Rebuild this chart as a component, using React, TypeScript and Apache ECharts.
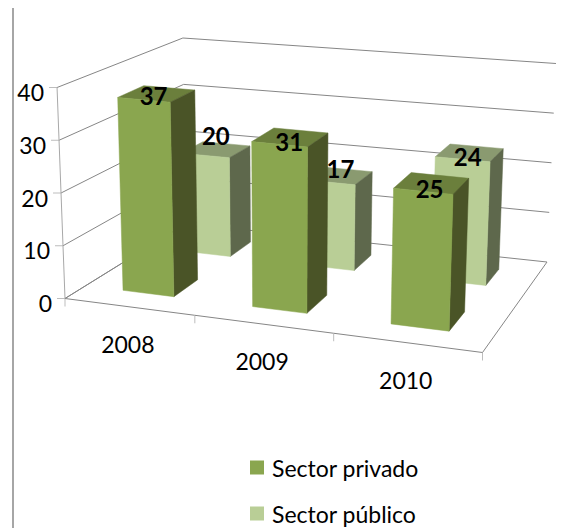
import React, { useEffect, useRef } from "react";
import * as echarts from "echarts";

const categories = ["2008", "2009", "2010"];
const privado = [37, 31, 25];
const publico = [20, 17, 24];
const yTicks = [0, 10, 20, 30, 40];
const FONT = "Lato";
const W = 573;
const H = 528;

// floor corners of the 3-D box: front-left, front-right, back-right, back-left
const floorBox = [[65, 298.5], [482.5, 352.5], [547, 262], [186, 223.5]];
// full-scale pixel height at the same four corners
const boxHeights = [211, 224, 198.5, 185.5];
const VERT_VANISH_X = 284;
const VERT_LEAN = 0.000172;
const labelNudge = { priv: [[-3, 2], [-1, 4], [-2, 5]], pub: [[0, -14], [2, -7], [-2, 4]] };

function homography(p: number[][]) {
  const [[x0, y0], [x1, y1], [x2, y2], [x3, y3]] = p;
  const dx1 = x1 - x2, dx2 = x3 - x2, sx = x0 - x1 + x2 - x3;
  const dy1 = y1 - y2, dy2 = y3 - y2, sy = y0 - y1 + y2 - y3;
  const den = dx1 * dy2 - dx2 * dy1;
  const g = (sx * dy2 - dx2 * sy) / den;
  const h = (dx1 * sy - sx * dy1) / den;
  const a = x1 - x0 + g * x1, b = x3 - x0 + h * x3;
  const d = y1 - y0 + g * y1, e = y3 - y0 + h * y3;
  return (u: number, v: number) => {
    const w = g * u + h * v + 1;
    return [(a * u + b * v + x0) / w, (d * u + e * v + y0) / w];
  };
}
const floorMap = homography(floorBox);
function project(u: number, v: number, t: number) {
  const f = floorMap(u, v);
  const hf = boxHeights[0] + (boxHeights[1] - boxHeights[0]) * u;
  const hb = boxHeights[3] + (boxHeights[2] - boxHeights[3]) * u;
  const full = hf + (hb - hf) * v;
  const up = full * t;
  return [f[0] + (f[0] - VERT_VANISH_X) * VERT_LEAN * up, f[1] - up];
}

const GRID = "#868686";
const TICK = "#bdbdbd";
const line = (a: number[], b: number[], stroke: string) => ({
  type: "line",
  shape: { x1: a[0], y1: a[1], x2: b[0], y2: b[1] },
  style: { stroke, lineWidth: 1 },
  silent: true,
});
const label = (text: string, x: number, y: number, size: number, weight: string, align: string) => ({
  type: "text",
  style: { text, x, y, fill: "#000", fontFamily: FONT, fontSize: size, fontWeight: weight, align, verticalAlign: "middle" },
});

function toUnit(api: any) {
  const p = api.coord([api.value(0), api.value(1)]);
  return { cat: p[0] / W, t: 1 - p[1] / H };
}

function renderValueFrame(_: any, api: any) {
  const { t } = toUnit(api);
  const a = project(0, 0, t), b = project(0, 1, t), c = project(1, 1, t);
  return {
    type: "group",
    children: [
      line(a, b, GRID),
      line(b, c, GRID),
      line([a[0] - 8, a[1]], a, TICK),
      label(String(api.value(1)), a[0] - 13, a[1] + 4.5, 23, "normal", "right"),
    ],
  };
}

function renderCategoryFrame(params: any, api: any) {
  const { cat } = toUnit(api);
  const u = cat; // cell's left edge
  const p0 = project(u, 0, 0);
  const next = project(u + 1 / 3, 0, 0);
  const mid = project(u + 1 / 6, 0, 0);
  const children: any[] = [
    line(p0, next, GRID),
    line(next, [next[0], next[1] + 8], TICK),
    label(categories[params.dataIndex], mid[0] - 1, mid[1] + 37, 23, "normal", "center"),
  ];
  if (params.dataIndex === 0) {
    children.push(line(p0, [p0[0], p0[1] + 8], TICK));
    children.push(line(p0, project(0, 0, 1), "#a8a8a8"));
    children.push(line(p0, project(0, 1, 0), GRID));
  }
  if (params.dataIndex === categories.length - 1) {
    children.push(line(next, project(1, 1, 0), GRID));
  }
  return { type: "group", children };
}

function makeBars(row: number, colors: string[], nudge: number[][]) {
  return (params: any, api: any) => {
    const { cat, t } = toUnit(api);
    const cell = 1 / 3;
    const u0 = cat + cell * 0.3, u1 = cat + cell * 0.7;
    const v0 = (row + 0.3) / 2, v1 = (row + 0.7) / 2;
    const poly = (pts: number[][], fill: string) => ({
      type: "polygon",
      shape: { points: pts },
      style: { fill, stroke: fill, lineWidth: 0.5 },
    });
    const tfl = project(u0, v0, t), tfr = project(u1, v0, t), tbr = project(u1, v1, t), tbl = project(u0, v1, t);
    const bfl = project(u0, v0, 0), bfr = project(u1, v0, 0), bbr = project(u1, v1, 0);
    const topC = [(tfl[0] + tfr[0] + tbr[0] + tbl[0]) / 4, (tfl[1] + tfr[1] + tbr[1] + tbl[1]) / 4];
    const n = nudge[params.dataIndex];
    return {
      type: "group",
      children: [
        poly([tfl, tfr, tbr, tbl], colors[2]),
        poly([tfr, tbr, bbr, bfr], colors[1]),
        poly([tfl, tfr, bfr, bfl], colors[0]),
        label(String(api.value(1)), topC[0] + n[0], topC[1] + n[1], 24, "bold", "center"),
      ],
    };
  };
}

const legendItem = (name: string, top: number) => ({
  data: [name],
  left: 250,
  top,
  padding: 0,
  itemWidth: 14,
  itemHeight: 14,
  icon: "rect",
  selectedMode: false,
  textStyle: { fontFamily: FONT, fontSize: 23, color: "#000", padding: [0, 0, 0, 3] },
});

export default function App() {
  const ref = useRef<HTMLDivElement>(null);
  useEffect(() => {
    const chart = echarts.init(ref.current!, undefined, { renderer: "svg" });
    const encode = { x: 0, y: 1 };
    chart.setOption({
      animation: false,
      grid: { left: 0, top: 0, width: W, height: H },
      xAxis: { type: "value", min: 0, max: 3, show: false },
      yAxis: { type: "value", min: 0, max: 40, interval: 10, show: false },
      legend: [legendItem("Sector privado", 456), legendItem("Sector público", 502)],
      graphic: [
        { type: "rect", silent: true, shape: { x: 12, y: 8, width: 2, height: 520 }, style: { fill: "#a6a6a6" } },
      ],
      series: [
        { type: "custom", name: "frameValue", renderItem: renderValueFrame, encode, data: yTicks.map((t) => [0, t]), silent: true, z: 1 },
        { type: "custom", name: "frameCategory", renderItem: renderCategoryFrame, encode, data: categories.map((_, i) => [i, 0]), silent: true, z: 1 },
        { type: "custom", name: "Sector público", itemStyle: { color: "#B9CE96" }, renderItem: makeBars(1, ["#B9CE96", "#5E684C", "#8A9A70"], labelNudge.pub), encode, data: publico.map((v, i) => [i, v]), z: 2 },
        { type: "custom", name: "Sector privado", itemStyle: { color: "#8AA64F" }, renderItem: makeBars(0, ["#8AA64F", "#4A5427", "#6B7F3C"], labelNudge.priv), encode, data: privado.map((v, i) => [i, v]), z: 3 },
      ],
    });
    return () => chart.dispose();
  }, []);
  return <div ref={ref} style={{ position: "absolute", left: 0, top: 0, width: W, height: H }} />;
}
